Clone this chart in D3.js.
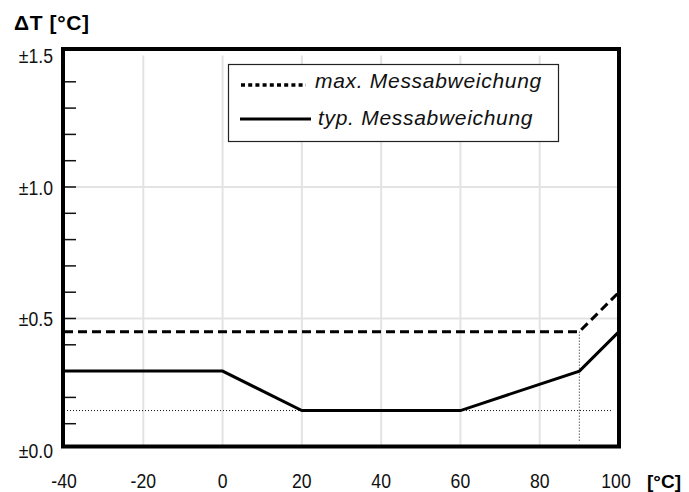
<!DOCTYPE html>
<html>
<head>
<meta charset="utf-8">
<script src="https://cdn.jsdelivr.net/npm/d3@7"></script>
<style>
  body { margin: 0; background: #fff; }
  svg { display: block; font-family: Arial, "Liberation Sans", sans-serif; }
</style>
</head>
<body>
<svg id="chart" width="689" height="492"></svg>
<script>
// chart values
const xTicks = [-40, -20, 0, 20, 40, 60, 80, 100];
const yTicks = [0, 0.5, 1.0, 1.5];
const yMinor = [0.1, 0.2, 0.3, 0.4, 0.5, 0.6, 0.7, 0.8, 0.9, 1.0, 1.1, 1.2, 1.3, 1.4];
const yLabels = ['±0.0', '±0.5', '±1.0', '±1.5'];

const maxX = [-40, 90, 100];
const maxY = [0.45, 0.45, 0.6];
const typX = [-40, 0, 20, 60, 90, 100];
const typY = [0.3, 0.3, 0.15, 0.15, 0.3, 0.45];

// dotted helper lines
const guideH = { y: 0.15, x0: -40, x1: 98.5 };
const guideV = { x: 90, y0: 0.45, y1: 0.03 };

const legendNames = ['max. Messabweichung', 'typ. Messabweichung'];

const svg = d3.select('#chart');

const x = d3.scaleLinear().domain([-40, 100]).range([64, 619]);
const y = d3.scaleLinear().domain([0, 1.5]).range([450, 55.5]);

const frameTop = y(1.5) - 6.5;
const frameBottom = y(0) - 3.5;

// grid
const grid = svg.append('g');
grid.selectAll('.vg')
  .data(xTicks.filter(d => d > -40 && d < 100))
  .enter().append('line')
  .attr('x1', d => x(d)).attr('x2', d => x(d))
  .attr('y1', y(1.5)).attr('y2', frameBottom)
  .attr('stroke', '#e3e3e3').attr('stroke-width', 2);
grid.selectAll('.hg')
  .data(yTicks.filter(d => d > 0 && d < 1.5))
  .enter().append('line')
  .attr('x1', x(-40)).attr('x2', x(100))
  .attr('y1', d => y(d)).attr('y2', d => y(d))
  .attr('stroke', '#e3e3e3').attr('stroke-width', 2);

// minor ticks on the left, inside
svg.append('g').selectAll('line')
  .data(yMinor)
  .enter().append('line')
  .attr('x1', x(-40) - 1).attr('x2', x(-40) + 12)
  .attr('y1', d => y(d)).attr('y2', d => y(d))
  .attr('stroke', '#111').attr('stroke-width', 1.5);

// dotted guides
svg.append('line')
  .attr('x1', x(guideH.x0)).attr('x2', x(guideH.x1))
  .attr('y1', y(guideH.y)).attr('y2', y(guideH.y))
  .attr('stroke', '#111').attr('stroke-width', 1).attr('stroke-dasharray', '1,2');
svg.append('line')
  .attr('x1', x(guideV.x)).attr('x2', x(guideV.x))
  .attr('y1', y(guideV.y0)).attr('y2', y(guideV.y1))
  .attr('stroke', '#111').attr('stroke-width', 1).attr('stroke-dasharray', '1,2');

const line = d3.line().x(d => x(d[0])).y(d => y(d[1]));

svg.append('path')
  .attr('d', line(d3.zip(maxX, maxY)))
  .attr('fill', 'none').attr('stroke', '#000')
  .attr('stroke-width', 3).attr('stroke-dasharray', '9,5');

svg.append('path')
  .attr('d', line(d3.zip(typX, typY)))
  .attr('fill', 'none').attr('stroke', '#000')
  .attr('stroke-width', 3).attr('stroke-linejoin', 'miter');

// frame
svg.append('rect')
  .attr('x', x(-40) - 1).attr('y', frameTop)
  .attr('width', x(100) - x(-40) + 1).attr('height', frameBottom - frameTop)
  .attr('fill', 'none').attr('stroke', '#000').attr('stroke-width', 4);

// tick labels (narrow glyphs like the original)
svg.append('g').selectAll('text')
  .data(yTicks)
  .enter().append('text')
  .attr('transform', d => `translate(53,${y(d) + 7.5}) scale(0.84,1)`)
  .attr('text-anchor', 'end')
  .attr('font-size', 21).attr('fill', '#111')
  .text((d, i) => yLabels[i]);

svg.append('g').selectAll('text')
  .data(xTicks)
  .enter().append('text')
  .attr('transform', d => `translate(${x(d) - (d === 100 ? 3 : 0)},488) scale(0.84,1)`)
  .attr('text-anchor', 'middle')
  .attr('font-size', 21).attr('fill', '#111')
  .text(d => d);

// axis titles
svg.append('text')
  .attr('x', 14).attr('y', 30)
  .attr('font-size', 21).attr('font-weight', 'bold')
  .attr('letter-spacing', 0.6)
  .text('ΔT [°C]');
svg.append('text')
  .attr('x', 647).attr('y', 488)
  .attr('font-size', 19).attr('font-weight', 'bold')
  .text('[°C]');

// legend
const lg = svg.append('g');
lg.append('rect')
  .attr('x', 228.5).attr('y', 64.5).attr('width', 330).attr('height', 77)
  .attr('fill', '#fff').attr('stroke', '#222').attr('stroke-width', 1.2);
lg.append('line')
  .attr('x1', 241).attr('x2', 306).attr('y1', 85).attr('y2', 85)
  .attr('stroke', '#000').attr('stroke-width', 3.5).attr('stroke-dasharray', '4,3.2');
lg.append('line')
  .attr('x1', 240).attr('x2', 311).attr('y1', 119).attr('y2', 119)
  .attr('stroke', '#000').attr('stroke-width', 3);
lg.selectAll('text.l')
  .data(legendNames)
  .enter().append('text')
  .attr('x', (d, i) => i === 0 ? 315 : 318)
  .attr('y', (d, i) => 88 + i * 37)
  .attr('font-size', 21).attr('font-style', 'italic').attr('fill', '#111')
  .attr('letter-spacing', 0.7)
  .text(d => d);
</script>
</body>
</html>
